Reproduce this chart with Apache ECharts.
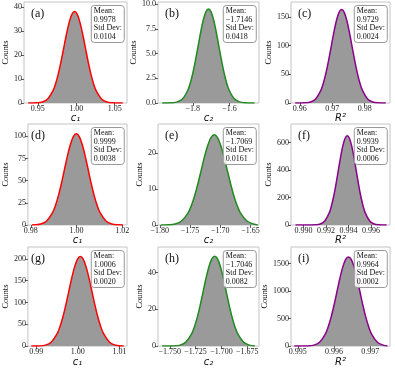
<!DOCTYPE html>
<html>
<head>
<meta charset="utf-8">
<script src="https://cdn.jsdelivr.net/npm/echarts@6/dist/echarts.min.js"></script>
<style>
html, body { margin: 0; padding: 0; background: #fff; }
#chart { width: 395px; height: 368px; }
</style>
</head>
<body>
<div id="chart"></div>
<script>
// panel labels and the fitted stats printed in each box
const panelLabels = ['(a)', '(b)', '(c)', '(d)', '(e)', '(f)', '(g)', '(h)', '(i)'];
const meanLabels = ['0.9978', '-1.7146', '0.9729', '0.9999', '-1.7069', '0.9939', '1.0006', '-1.7046', '0.9964'];
const stdLabels = ['0.0104', '0.0418', '0.0024', '0.0038', '0.0161', '0.0006', '0.0020', '0.0082', '0.0002'];
const xNames = ['c₁', 'c₂', 'R²', 'c₁', 'c₂', 'R²', 'c₁', 'c₂', 'R²'];

// fitted curve: x positions and counts
const curveAx = [0.9375, 0.9418, 0.9488, 0.9558, 0.9628, 0.9698, 0.9733, 0.9768, 0.9803, 0.9838, 0.9873, 0.9908, 0.9943, 0.9978, 1.0013, 1.0048, 1.0083, 1.0118, 1.0153, 1.0188, 1.0223, 1.0258, 1.0328, 1.0398, 1.0468, 1.0538, 1.0605];
const curveAy = [0, 0.01, 0.08, 0.42, 1.67, 5.14, 8.22, 12.34, 17.40, 23.05, 28.68, 33.54, 36.83, 38, 36.83, 33.54, 28.68, 23.05, 17.40, 12.34, 8.22, 5.14, 1.67, 0.42, 0.08, 0.01, 0];
const curveBx = [-1.967, -1.9402, -1.9120, -1.8838, -1.8556, -1.8274, -1.8133, -1.7992, -1.7851, -1.7710, -1.7569, -1.7428, -1.7287, -1.7146, -1.7005, -1.6864, -1.6723, -1.6582, -1.6441, -1.6300, -1.6159, -1.6018, -1.5736, -1.5454, -1.5172, -1.4890, -1.463];
const curveBy = [0, 0.003, 0.02, 0.11, 0.42, 1.29, 2.05, 3.08, 4.35, 5.76, 7.17, 8.38, 9.21, 9.5, 9.21, 8.38, 7.17, 5.76, 4.35, 3.08, 2.05, 1.29, 0.42, 0.11, 0.02, 0.003, 0];
const curveCx = [0.9586, 0.9601, 0.9617, 0.9633, 0.9649, 0.9665, 0.9673, 0.9681, 0.9689, 0.9697, 0.9705, 0.9713, 0.9721, 0.9729, 0.9737, 0.9745, 0.9753, 0.9761, 0.9769, 0.9777, 0.9785, 0.9793, 0.9809, 0.9825, 0.9841, 0.9857, 0.9865];
const curveCy = [0, 0.05, 0.36, 1.81, 7.16, 22.05, 35.26, 52.93, 74.62, 98.86, 123.03, 143.85, 157.98, 163, 157.98, 143.85, 123.03, 98.86, 74.62, 52.93, 35.26, 22.05, 7.16, 1.81, 0.36, 0.05, 0];
const curveDx = [0.9805, 0.9817, 0.9843, 0.9869, 0.9895, 0.9908, 0.9921, 0.9934, 0.9947, 0.9960, 0.9973, 0.9986, 0.9999, 1.0012, 1.0025, 1.0038, 1.0051, 1.0064, 1.0077, 1.0090, 1.0103, 1.0129, 1.0155, 1.0181, 1.0203];
const curveDy = [0, 0.23, 1.14, 4.52, 13.94, 22.28, 33.44, 47.15, 62.47, 77.74, 90.90, 99.83, 103, 99.83, 90.90, 77.74, 62.47, 47.15, 33.44, 22.28, 13.94, 4.52, 1.14, 0.23, 0];
const curveEx = [-1.798, -1.7856, -1.7748, -1.7640, -1.7532, -1.7478, -1.7424, -1.7370, -1.7316, -1.7262, -1.7208, -1.7154, -1.7100, -1.7046, -1.6992, -1.6938, -1.6884, -1.6830, -1.6776, -1.6722, -1.6668, -1.6560, -1.6452, -1.638];
const curveEy = [0, 0.06, 0.28, 1.10, 3.38, 5.41, 8.12, 11.45, 15.16, 18.87, 22.06, 24.23, 25, 24.23, 22.06, 18.87, 15.16, 11.45, 8.12, 5.41, 3.38, 1.10, 0.28, 0];
const curveFx = [0.9893, 0.9907, 0.9911, 0.9915, 0.9919, 0.9923, 0.9925, 0.9927, 0.9929, 0.9931, 0.9933, 0.9935, 0.9937, 0.9939, 0.9941, 0.9943, 0.9945, 0.9947, 0.9949, 0.9951, 0.9953, 0.9955, 0.9959, 0.9963, 0.9967, 0.9971, 0.9974];
const curveFy = [0, 0.2, 1.4, 7.2, 28.5, 87.9, 140.6, 211.1, 297.6, 394.2, 490.6, 573.6, 630.0, 650, 630.0, 573.6, 490.6, 394.2, 297.6, 211.1, 140.6, 87.9, 28.5, 7.2, 1.4, 0.2, 0];
const curveGx = [0.9888, 0.9908, 0.9922, 0.9936, 0.9950, 0.9957, 0.9964, 0.9971, 0.9978, 0.9985, 0.9992, 0.9999, 1.0006, 1.0013, 1.0020, 1.0027, 1.0034, 1.0041, 1.0048, 1.0055, 1.0062, 1.0076, 1.0090, 1.0104, 1.0110];
const curveGy = [0, 0.45, 2.28, 9.00, 27.74, 44.34, 66.56, 93.85, 124.33, 154.73, 180.91, 198.69, 205, 198.69, 180.91, 154.73, 124.33, 93.85, 66.56, 44.34, 27.74, 9.00, 2.28, 0.45, 0];
const curveHx = [-1.7575, -1.7513, -1.7457, -1.7401, -1.7345, -1.7289, -1.7261, -1.7233, -1.7205, -1.7177, -1.7149, -1.7121, -1.7093, -1.7065, -1.7037, -1.7009, -1.6981, -1.6953, -1.6925, -1.6897, -1.6869, -1.6841, -1.6785, -1.6729, -1.6675];
const curveHy = [0, 0.01, 0.11, 0.54, 2.15, 6.63, 10.60, 15.91, 22.43, 29.72, 36.99, 43.24, 47.49, 49, 47.49, 43.24, 36.99, 29.72, 22.43, 15.91, 10.60, 6.63, 2.15, 0.54, 0];
const curveIx = [0.9949, 0.99512, 0.99528, 0.99544, 0.99560, 0.99576, 0.99584, 0.99592, 0.99600, 0.99608, 0.99616, 0.99624, 0.99632, 0.99640, 0.99648, 0.99656, 0.99664, 0.99672, 0.99680, 0.99688, 0.99696, 0.99704, 0.99720, 0.99736, 0.99748];
const curveIy = [0, 0.5, 3.6, 18.0, 71.1, 219.2, 350.4, 526.0, 741.6, 982.5, 1222.8, 1429.7, 1570.1, 1620, 1570.1, 1429.7, 1222.8, 982.5, 741.6, 526.0, 350.4, 219.2, 71.1, 18.0, 0];

// axis extents and tick labels
const xRanges = [[0.932, 1.066], [-1.99, -1.439], [0.9573, 0.9878], [0.9787, 1.0221], [-1.803, -1.636], [0.9889, 0.9977], [0.988, 1.0118], [-1.7615, -1.6635], [0.99481, 0.99755]];
const yMaxes = [42, 10.2, 176, 114, 28, 735, 227, 54, 1800];
const xTickLabels = [
  ['0.95', '1.00', '1.05'],
  ['-1.8', '-1.6'],
  ['0.96', '0.97', '0.98'],
  ['0.98', '1.00', '1.02'],
  ['-1.80', '-1.75', '-1.70', '-1.65'],
  ['0.990', '0.992', '0.994', '0.996'],
  ['0.99', '1.00', '1.01'],
  ['-1.750', '-1.725', '-1.700', '-1.675'],
  ['0.995', '0.996', '0.997']
];
const yTickLabels = [
  ['0', '10', '20', '30', '40'],
  ['0.0', '2.5', '5.0', '7.5', '10.0'],
  ['0', '50', '100', '150'],
  ['0', '25', '50', '75', '100'],
  ['0', '10', '20'],
  ['0', '200', '400', '600'],
  ['0', '50', '100', '150', '200'],
  ['0', '20', '40'],
  ['0', '500', '1000', '1500']
];

const curvesX = [curveAx, curveBx, curveCx, curveDx, curveEx, curveFx, curveGx, curveHx, curveIx];
const curvesY = [curveAy, curveBy, curveCy, curveDy, curveEy, curveFy, curveGy, curveHy, curveIy];

// layout
const colLeft = [24, 158, 291];
const colWidth = [103, 101, 99];
const rowTop = [2, 124, 247];
const rowHeight = 101;
const lineColors = ['#ff0000', '#1f8a1f', '#8b008b'];
const yNameGaps = [12, 17, 12, 12, 10, 16, 12, 10, 17];
const serif = 'Liberation Serif';

const chart = echarts.init(document.getElementById('chart'));

const minus = s => s.replace('-', '\u2212');
const tickFormatter = labels => v => {
  let best = labels[0];
  labels.forEach(l => { if (Math.abs(parseFloat(l) - v) < Math.abs(parseFloat(best) - v)) best = l; });
  return minus(best);
};

const grid = [], xAxis = [], yAxis = [], series = [], title = [];
for (let i = 0; i < 9; i++) {
  const col = i % 3, row = Math.floor(i / 3);
  const left = colLeft[col], top = rowTop[row], width = colWidth[col];
  grid.push({
    left: left, top: top, width: width, height: rowHeight,
    show: true, borderColor: '#c4c4c4', borderWidth: 1, backgroundColor: 'transparent'
  });
  const xt = xTickLabels[i].map(parseFloat);
  const yt = yTickLabels[i].map(parseFloat);
  xAxis.push({
    type: 'value', gridIndex: i, min: xRanges[i][0], max: xRanges[i][1],
    name: xNames[i], nameLocation: 'middle', nameGap: 8,
    nameTextStyle: { fontFamily: 'DejaVu Sans', fontStyle: 'italic', fontSize: 10, color: '#111' },
    axisLine: { show: false },
    splitLine: { show: false },
    axisTick: { show: true, length: 3, customValues: xt, lineStyle: { color: '#333', width: 0.8 } },
    axisLabel: { customValues: xt, formatter: tickFormatter(xTickLabels[i]), fontFamily: serif, fontSize: 8, color: '#222', margin: 2 }
  });
  yAxis.push({
    type: 'value', gridIndex: i, min: 0, max: yMaxes[i],
    name: 'Counts', nameLocation: 'middle', nameGap: yNameGaps[i],
    nameTextStyle: { fontFamily: serif, fontSize: 8.5, color: '#111' },
    axisLine: { show: false },
    splitLine: { show: false },
    axisTick: { show: true, length: 3, customValues: yt, lineStyle: { color: '#333', width: 0.8 } },
    axisLabel: { customValues: yt, formatter: tickFormatter(yTickLabels[i]), fontFamily: serif, fontSize: 8, color: '#222', margin: 2 }
  });
  series.push({
    type: 'line', xAxisIndex: i, yAxisIndex: i,
    data: curvesX[i].map((x, k) => [x, curvesY[i][k]]),
    showSymbol: false, smooth: 0.3,
    lineStyle: { color: lineColors[col], width: 1.5 },
    areaStyle: { color: '#9a9a9a', opacity: 1 },
    silent: true
  });
  title.push({
    text: panelLabels[i], left: left + 2, top: top + 1,
    textStyle: { fontFamily: serif, fontSize: 12, fontWeight: 'normal', color: '#111' }
  });
  title.push({
    text: 'Mean:\n' + minus(meanLabels[i]) + '\nStd Dev:\n' + stdLabels[i],
    right: 395 - (left + width) + 2, top: top + 3,
    padding: [2, 3, 2, 3],
    borderColor: '#999', borderWidth: 1, borderRadius: 3,
    backgroundColor: 'rgba(255,255,255,0.85)',
    textStyle: { fontFamily: serif, fontSize: 8, lineHeight: 8.5, fontWeight: 'normal', color: '#111' }
  });
}

chart.setOption({
  animation: false,
  backgroundColor: '#fff',
  title: title,
  grid: grid,
  xAxis: xAxis,
  yAxis: yAxis,
  series: series
});

window.addEventListener('resize', () => {
  chart.resize();
});
</script>
</body>
</html>
